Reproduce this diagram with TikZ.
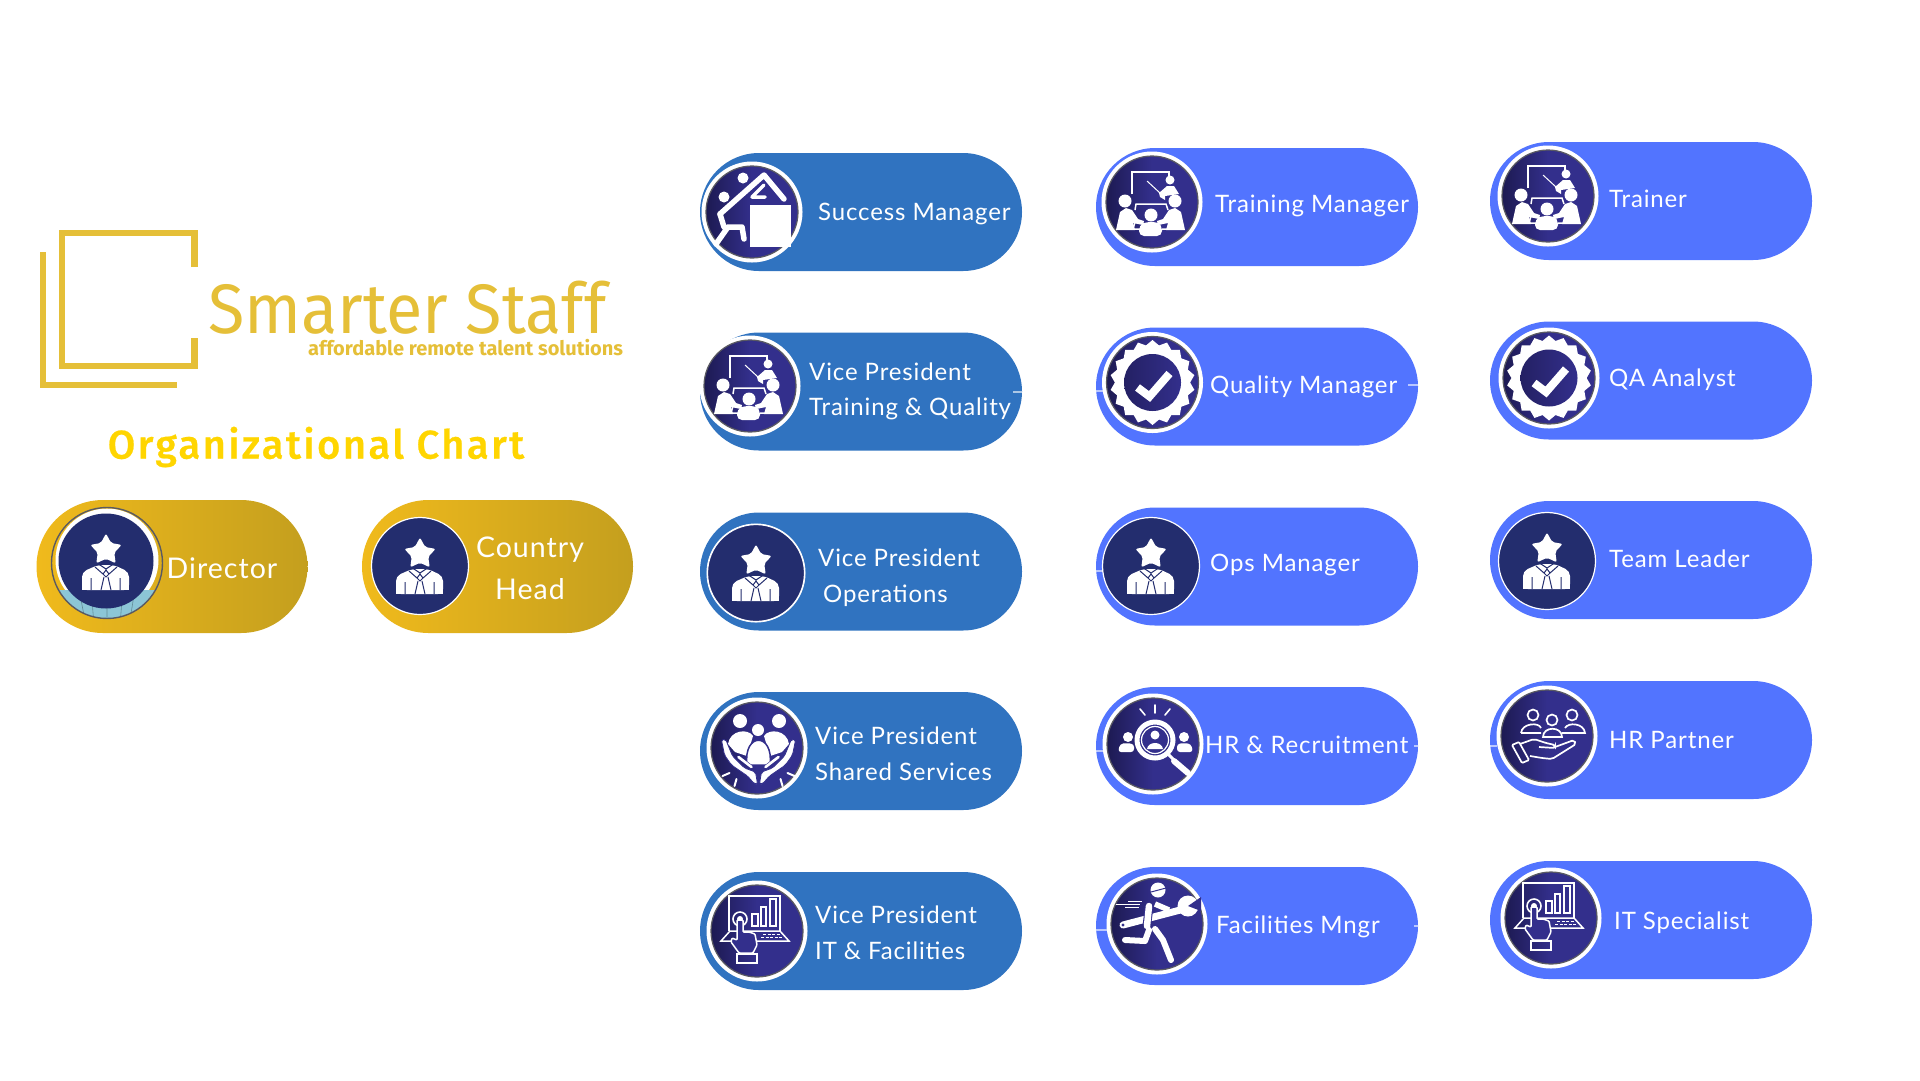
\documentclass[tikz,border=0pt]{standalone}
\usepackage{fontspec}
\usetikzlibrary{shapes.geometric,shapes.misc}
\newfontfamily\pillfont[LetterSpace=3.6]{Lato}
\newfontfamily\logofont[FakeStretch=0.95]{Fira Sans}
\newfontfamily\tagfont{Fira Sans}
\newfontfamily\titlefont[LetterSpace=6,FakeBold=0.6]{Fira Sans Medium}
\definecolor{logogold}{HTML}{E5BF38}
\definecolor{titlegold}{HTML}{FFD500}
\definecolor{goldleft}{HTML}{F0BA1C}
\definecolor{goldright}{HTML}{C49F1E}
\definecolor{vpblue}{HTML}{3073C0}
\definecolor{mgrblue}{HTML}{5274FF}
\definecolor{leadnavy}{HTML}{232D6E}
\definecolor{discleft}{HTML}{1D1A52}
\definecolor{discright}{HTML}{332F8C}
\definecolor{discrim}{HTML}{5A5A62}
\definecolor{teal}{HTML}{8CC6D6}
\tikzset{
  pill/.style={rounded rectangle,inner sep=0pt,minimum width=322,minimum height=118},
  vppill/.style={pill,fill=vpblue},
  mgrpill/.style={pill,fill=mgrblue},
  goldpill/.style={rounded rectangle,inner sep=0pt,minimum width=271,minimum height=133,left color=goldleft,right color=goldright},
  disc/.style={circle,inner sep=0pt,minimum size=92,left color=discleft,right color=discright,middle color=discright,draw=discrim,line width=1.2pt,preaction={draw=white,line width=9pt}},
  leaddisc/.style={circle,inner sep=0pt,minimum size=97,fill=leadnavy,draw=white,line width=1.2pt},
  pilllabel/.style={anchor=west,inner sep=0pt,yshift=-2pt,align=left,text=white,font=\pillfont\fontsize{24}{35.5}\selectfont},
  goldlabel/.style={inner sep=0pt,align=center,text=white,font=\pillfont\fontsize{28.5}{42}\selectfont},
  stubline/.style={draw=white,opacity=.6,line width=1.2pt},
  logoline/.style={draw=logogold,line width=6.5pt},
  thinline/.style={draw=white,line width=1.5pt},
  pics/leader/.style={code={
    \fill[white,rounded corners=5pt] (-24,28) -- (-24,10) -- (-8,3) -- (8,3) -- (23,10) -- (23,28) -- cycle;
    \fill[white] (-24,22) rectangle (23,28);
    \node[star,star points=5,star point ratio=1.9,fill=white,rounded corners=2pt,inner sep=0pt,minimum size=33] at (0,-12) {};
    \draw[leadnavy,line width=1pt] (-15,16) -- (-15,28) (14,16) -- (14,28) (-11,5) -- (-3,12) -- (0,8) -- (3,12) -- (11,5) (-3,12) -- (0,15) -- (3,12) (-2,15) -- (-5,28) (2,15) -- (5,28) (-9,1) -- (0,7) -- (9,1);
  }},
  pics/climber/.style={code={
    \fill[white] (-9,-34) circle[radius=5.5] (-28,-15) circle[radius=5.5];
    \fill[white] (-2,-7) rectangle (39,35);
    \draw[white,line width=5.5pt,line cap=round,line join=round] (-32,2) -- (12,-37) -- (32,-13);
    \draw[white,line width=3.5pt,line cap=round,line join=round] (12,-27) -- (0,-15) -- (13,-15);
    \draw[white,line width=5.5pt,line cap=round,line join=round] (-32,2) -- (-28,15) (-24,15) -- (-10,15) -- (-8,27) (-24,15) -- (-36,32);
  }},
  pics/presenter/.style={code={
    \draw[thinline] (-20,-8) -- (-20,-30) -- (17,-30) -- (17,-26);
    \fill[white] (18,-22) circle[radius=4.5];
    \draw[white,line width=1pt] (-5,-21) -- (8,-9);
    \fill[white] (7,-9) -- (15,-16) -- (22,-16) -- (27,-8) -- (13,-6) -- (13,-2) -- (8,-5) -- cycle;
    \draw[thinline] (-17,8) -- (-16,2) -- (14,2) -- (16,8) (-17,20) -- (-19,27) -- (-12,27) (10,27) -- (18,27) -- (17,20);
    \fill[white] (-27,-1) circle[radius=6.5] (23,-1) circle[radius=6.5] (-1,13) circle[radius=6.5];
    \fill[white] (-36,28) -- (-32,10) -- (-26,6) -- (-20,8) -- (-14,17) -- (-8,19) -- (-9,23) -- (-19,21) -- (-17,28) -- cycle;
    \fill[white] (33,28) -- (29,10) -- (23,6) -- (17,8) -- (11,17) -- (5,19) -- (6,23) -- (16,21) -- (14,28) -- cycle;
    \fill[white,rounded corners=5pt] (-13,34) -- (-13,23) -- (-6,20) -- (5,20) -- (10,23) -- (10,34) -- cycle;
  }},
  pics/badge/.style={code={
    \node[star,star points=18,star point ratio=1.13,fill=white,inner sep=0pt,minimum size=85] at (0,0) {};
    \node[circle,inner sep=0pt,minimum size=57,left color=discleft!70!discright,right color=discright] at (0,0) {};
    \draw[white,line width=8pt,line join=miter] (-15,5) -- (-3,14) -- (17,-9);
  }},
  pics/seeker/.style={code={
    \draw[white,line width=1.6pt,line cap=round] (2,-39) -- (2,-31) (-13,-35) -- (-8,-29) (17,-35) -- (12,-29);
    \fill[white] (-25,-7) circle[radius=5] (31,-7) circle[radius=5];
    \fill[white,rounded corners=3pt] (-35,8) -- (-33,0) -- (-27,-1) -- (-19,0) -- (-19,8) -- cycle;
    \fill[white,rounded corners=3pt] (24,8) -- (24,0) -- (31,-1) -- (38,0) -- (40,8) -- cycle;
    \draw[white,line width=5pt,fill=discright] (2,-4) circle[radius=18];
    \draw[white,line width=1.2pt] (2,-4) circle[radius=13.5];
    \fill[white] (2,-9) circle[radius=4.5];
    \fill[white] (-6,5) .. controls (-5,-3) and (9,-3) .. (10,5) -- cycle;
    \draw[white,line width=3pt] (15,10) -- (22,17);
    \draw[white,line width=6pt,line cap=round] (21,17) -- (35,29);
  }},
  pics/carers/.style={code={
    \fill[white] (-17,-27) circle[radius=7] (22,-27) circle[radius=7] (1,-18) circle[radius=6];
    \fill[white] (-29,-4) .. controls (-27,-18) and (-9,-20) .. (-4,-12) -- (-10,8) -- (-22,4) -- cycle;
    \fill[white] (32,-4) .. controls (30,-18) and (12,-20) .. (7,-12) -- (13,8) -- (25,4) -- cycle;
    \fill[white,draw=discright,line width=1.5pt] (-10,17) .. controls (-14,-16) and (17,-16) .. (13,17) -- cycle;
    \foreach \s in {-1,1} {
      \begin{scope}[shift={(1.5,0)},xscale=\s]
        \fill[white,draw=discright,line width=.8pt,rounded corners=2pt] (-37,-8) -- (-33,-9) -- (-26,8) -- (-14,20) -- (-3,24) -- (-1,36) -- (-4,36) -- (-11,28) -- (-27,17) -- (-34,7) -- cycle;
        \draw[discright,line width=3.6pt,line cap=round] (-20,9) -- (-7,19);
        \draw[white,line width=2.6pt,line cap=round] (-20,9) -- (-7,19);
        \draw[white,line width=2pt,line cap=round] (-36,28) -- (-29,25) (-24,38) -- (-22,31);
      \end{scope}
    }
  }},
  pics/laptop/.style={code={
    \draw[thinline] (-28,0) -- (-28,-35) -- (23,-35) -- (23,0);
    \draw[thinline] (-5,-17) rectangle (1,-5) (4,-24) rectangle (9,-5) (13,-32) rectangle (19,-5);
    \draw[thinline] (-36,10) -- (-27,0) -- (23,0) -- (32,10) -- cycle;
    \draw[white,line width=1pt,dash pattern=on 3pt off 1.5pt] (6,3) -- (24,3) (4,6) -- (26,6);
    \draw[white,line width=1.6pt] (-17,-12) circle[radius=7];
    \fill[white] (-17,-12) circle[radius=3];
    \draw[thinline,fill=discright,rounded corners=1pt] (-20,-11) -- (-14,-11) -- (-14,1) -- (-8,1) -- (-2,3) -- (0,14) -- (-4,22) -- (-18,22) -- (-26,11) -- (-25,7) -- (-20,9) -- cycle;
    \draw[thinline] (-20,23) rectangle (0,32);
  }},
  pics/mender/.style={code={
    \draw[white,line width=.7pt] (-41,-20) -- (-17,-20) (-29,-23) -- (-15,-23) (-32,-17) -- (-18,-17);
    \fill[white] (1,-34) circle[radius=7.5];
    \draw[discright,line width=1pt] (-6,-32) -- (9,-36);
    \draw[white,line width=7pt,line cap=round] (-34,1) -- (27,-15);
    \fill[white] (31,-18) circle[radius=10.5];
    \fill[discright] (31,-18) -- (44,-27) -- (44,-13) -- cycle;
    \fill[discright] (-34,1) circle[radius=1.6];
    \draw[white,line width=5.5pt,line join=round] (-2,-20) -- (12,-14);
    \draw[discright,line width=8.5pt] (-8,-16) -- (-10,0);
    \draw[white,line width=6.5pt,line cap=round] (-8,-18) -- (-10,2);
    \draw[white,line width=6pt,line cap=round,line join=round] (-8,6) -- (-12,17) -- (-32,16);
    \draw[white,line width=6pt,line cap=round,line join=round] (-2,5) -- (6,16) -- (14,36);
  }},
  pics/partner/.style={code={
    \draw[white,line width=1.7pt] (-14,-21) circle[radius=5.5] (25,-21) circle[radius=5.5];
    \draw[white,line width=1.7pt] (-26,-3) .. controls (-25,-13) and (-8,-14) .. (-6,-8) (18,-8) .. controls (21,-14) and (37,-13) .. (38,-3) -- (15,-3) (-6,-3) -- (-26,-3);
    \draw[white,line width=1.7pt,fill=discright] (-4,1) .. controls (-4,-10) and (15,-10) .. (15,1) -- cycle;
    \draw[white,line width=1.7pt,fill=discright] (5,-16) circle[radius=5.5];
    \draw[white,line width=1.7pt,rounded corners=1pt] (-35,9) -- (-28,6) -- (-18,24) -- (-25,27) -- cycle;
    \draw[white,line width=1.7pt,rounded corners=2pt] (-27,8) -- (-13,3) -- (-1,7) -- (8,9) -- (8,12) -- (-8,11) (8,11) -- (27,4) -- (29,8) -- (5,23) -- (-5,22) -- (-17,20);
  }},
}
\begin{document}
\begin{tikzpicture}[x=1pt,y=-1pt]
  \useasboundingbox (0,0) rectangle (1920,1080);
  \draw[logoline] (194.5,267) -- (194.5,233) -- (62,233) -- (62,366) -- (194.5,366) -- (194.5,338);
  \draw[logoline] (43,252) -- (43,385) -- (177,385);
  \node[anchor=base west,inner sep=0pt,text=logogold,font=\logofont\fontsize{70}{70}\selectfont] (brandname) at (208,333) {Smarter Staff};
  \node[anchor=base west,inner sep=0pt,text=logogold,font=\tagfont\bfseries\fontsize{20}{20}\selectfont] (brandtag) at (308,355) {affordable remote talent solutions};
  \node[text=titlegold,inner sep=0pt,font=\titlefont\fontsize{40}{40}\selectfont] (charttitle) at (316,447) {Organizational Chart};

  \node[goldpill] (directorpill) at (172,566.5) {};
  \node[goldpill] (countrypill) at (497.5,566.5) {};

  \node[vppill] (successpill) at (861,212) {};
  \node[vppill] (trainvppill) at (861,391.5) {};
  \node[vppill] (opsvppill) at (861,571.5) {};
  \node[vppill] (sharedpill) at (861,751) {};
  \node[vppill] (itvppill) at (861,931) {};

  \node[mgrpill] (trainmgrpill) at (1257,207) {};
  \node[mgrpill] (qualitypill) at (1257,386.5) {};
  \node[mgrpill] (opsmgrpill) at (1257,566.5) {};
  \node[mgrpill] (recruitpill) at (1257,746) {};
  \node[mgrpill] (facilitypill) at (1257,926) {};

  \node[mgrpill] (trainerpill) at (1651,201) {};
  \node[mgrpill] (qapill) at (1651,380.5) {};
  \node[mgrpill] (leaderpill) at (1651,560) {};
  \node[mgrpill] (hrpill) at (1651,740) {};
  \node[mgrpill] (itpill) at (1651,920) {};

  \begin{scope}[stubline]
    \coordinate (a) at (1013,392);
    \coordinate (b) at (1103,391);
    \coordinate (c) at (1408,385);
    \coordinate (d) at (1103,571);
    \coordinate (e) at (1103,751);
    \coordinate (f) at (1414,746);
    \coordinate (g) at (1107,930);
    \coordinate (h) at (1414,926);
    \coordinate (i) at (1497,746);
    \draw (a) -- (trainvppill.east |- a);
    \draw (b) -- (qualitypill.west |- b);
    \draw (c) -- (qualitypill.east |- c);
    \draw (d) -- (opsmgrpill.west |- d);
    \draw (e) -- (recruitpill.west |- e);
    \draw (f) -- (recruitpill.east |- f);
    \draw (g) -- (facilitypill.west |- g);
    \draw (h) -- (facilitypill.east |- h);
    \draw (i) -- (hrpill.west |- i);
  \end{scope}

  \begin{scope}
    \clip (107,563) circle[radius=55.5];
    \fill[white] (107,560) circle[radius=51.5];
    \fill[teal] (40,590) rectangle (175,630);
    \draw[teal!70!black,line width=.6pt] (80,595) -- (85,620) (92,600) -- (94,625) (107,600) -- (107,625) (122,600) -- (120,625) (134,595) -- (130,620);
  \end{scope}
  \node[circle,inner sep=0pt,minimum size=95,fill=leadnavy] (directordisc) at (106,561) {};
  \draw[discrim,line width=1.4pt] (107,563) circle[radius=55.5];
  \node[leaddisc] (countrydisc) at (420,566) {};
  \node[leaddisc,preaction={draw=white,line width=2pt}] (opsdisc) at (756,573) {};
  \node[leaddisc] (opsmgrdisc) at (1151,566) {};
  \node[leaddisc] (leaddisc) at (1547,561) {};

  \node[disc] (successdisc) at (752,212) {};
  \node[disc] (trainvpdisc) at (750,386) {};
  \node[disc] (shareddisc) at (757,748) {};
  \node[disc] (itvpdisc) at (757,931) {};
  \node[disc] (trainmgrdisc) at (1152,202) {};
  \node[disc] (qualitydisc) at (1152.5,382.5) {};
  \node[disc] (recruitdisc) at (1153,744) {};
  \node[disc] (facilitydisc) at (1157,924) {};
  \node[disc] (trainerdisc) at (1548,196) {};
  \node[disc] (qadisc) at (1549,378) {};
  \node[disc] (hrdisc) at (1547,736) {};
  \node[disc] (itdisc) at (1551,918) {};

  \pic at (106,562) {leader};
  \pic at (420,566) {leader};
  \pic at (756,573) {leader};
  \pic at (1151,566) {leader};
  \pic at (1547,561) {leader};
  \pic at (752,212) {climber};
  \pic at (750,386) {presenter};
  \pic at (1152,202) {presenter};
  \pic at (1548,196) {presenter};
  \pic at (1152.5,382.5) {badge};
  \pic at (1549,378) {badge};
  \pic at (757,748) {carers};
  \pic at (757,931) {laptop};
  \pic at (1551,918) {laptop};
  \pic at (1153,744) {seeker};
  \pic at (1157,924) {mender};
  \pic at (1547,736) {partner};

  \node[goldlabel] (directortext) at (222,568) {Director};
  \node[goldlabel] (countrytext) at (530,568) {Country\\Head};

  \node[pilllabel] (successtext) at (818,212) {Success Manager};
  \node[pilllabel] (trainvptext) at (809,389.5) {Vice President\\Training \& Quality};
  \node[pilllabel] (opsvptext) at (818,575.5) {Vice President\\\hspace*{5pt}Operations};
  \node[pilllabel] (sharedtext) at (815,751.5) {Vice President\\Shared Services};
  \node[pilllabel] (itvptext) at (815,930.5) {Vice President\\IT \& Facilities};
  \node[pilllabel] (trainmgrtext) at (1215,204) {Training Manager};
  \node[pilllabel] (qualitytext) at (1210,385) {Quality Manager};
  \node[pilllabel] (opsmgrtext) at (1210,563) {Ops Manager};
  \node[pilllabel] (recruittext) at (1205,743) {HR \& Recruitment};
  \node[pilllabel] (facilitytext) at (1216,925) {Facilities Mngr};
  \node[pilllabel] (trainertext) at (1609,197) {Trainer};
  \node[pilllabel] (qatext) at (1609,378) {QA Analyst};
  \node[pilllabel] (leadertext) at (1609,557) {Team Leader};
  \node[pilllabel] (hrtext) at (1609,738) {HR Partner};
  \node[pilllabel] (ittext) at (1614,921) {IT Specialist};
\end{tikzpicture}
\end{document}
